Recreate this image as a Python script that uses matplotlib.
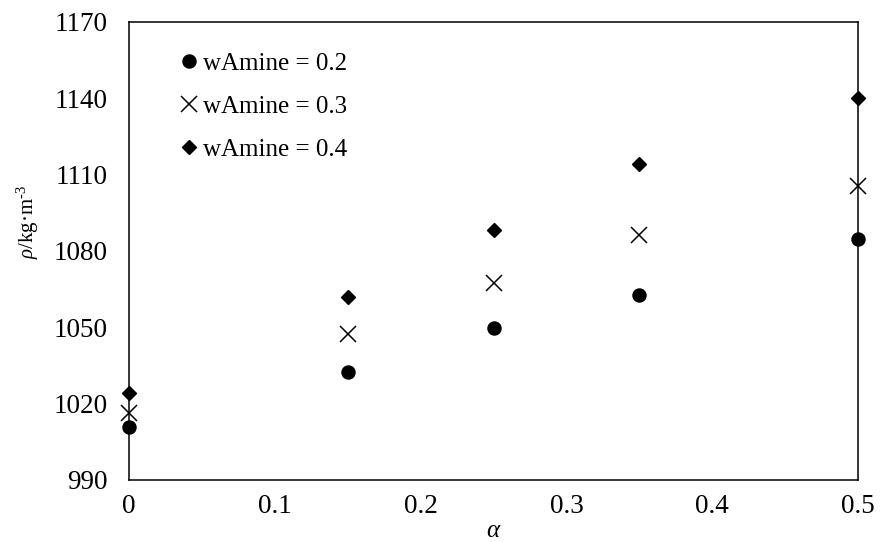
import matplotlib
matplotlib.use("Agg")
import matplotlib.pyplot as plt

plt.rcParams['font.family'] = ['Liberation Serif', 'DejaVu Serif']
plt.rcParams['mathtext.fontset'] = 'custom'
plt.rcParams['mathtext.rm'] = 'Liberation Serif'
plt.rcParams['mathtext.it'] = 'Liberation Serif:italic'

alpha = [0, 0.15, 0.25, 0.35, 0.5]
rho_02 = [1011, 1032.6, 1049.6, 1062.7, 1084.7]
rho_03 = [1016.2, 1047.4, 1067.3, 1086.3, 1105.6]
rho_04 = [1024.3, 1062.0, 1088.3, 1114.1, 1140.0]
labels = ['wAmine = 0.2', 'wAmine = 0.3', 'wAmine = 0.4']
xticks = [0, 0.1, 0.2, 0.3, 0.4, 0.5]
yticks = [990, 1020, 1050, 1080, 1110, 1140, 1170]

fig = plt.figure(figsize=(8.81, 5.42), dpi=100)
ax = fig.add_axes([129/881, 1-480/542, (858-129)/881, (480-22)/542])

ax.plot(alpha, rho_02, linestyle='none', marker='o', ms=9.4, color='black', label=labels[0], clip_on=False)
ax.plot(alpha, rho_03, linestyle='none', marker='x', ms=11, mew=1.1, color='black', label=labels[1], clip_on=False)
ax.plot(alpha, rho_04, linestyle='none', marker='D', ms=7.1, color='black', label=labels[2], clip_on=False)

ax.set_xlim(0, 0.5)
ax.set_ylim(990, 1170)
ax.set_xticks(xticks)
ax.set_xticklabels(['0', '0.1', '0.2', '0.3', '0.4', '0.5'])
ax.set_yticks(yticks)
ax.tick_params(axis='both', length=0, labelsize=19.5)
ax.tick_params(axis='y', pad=15.5)
ax.tick_params(axis='x', pad=10)
for s in ax.spines.values():
    s.set_linewidth(1.1)
    s.set_color('black')

ax.set_xlabel(r'$\mathit{\alpha}$', fontsize=18, labelpad=1)
fig.text(28/881, 1-222/542, '$\\mathit{\\rho}$/kg\u00b7m$^{\u20103}$', fontsize=15,
         rotation=90, ha='center', va='center')

leg = ax.legend(loc='upper left', bbox_to_anchor=(0.048, 0.9725), frameon=False,
                fontsize=18, handlelength=0.6, handletextpad=0.25,
                labelspacing=0.82, borderpad=0.2)

fig.savefig('out.png', dpi=100)
